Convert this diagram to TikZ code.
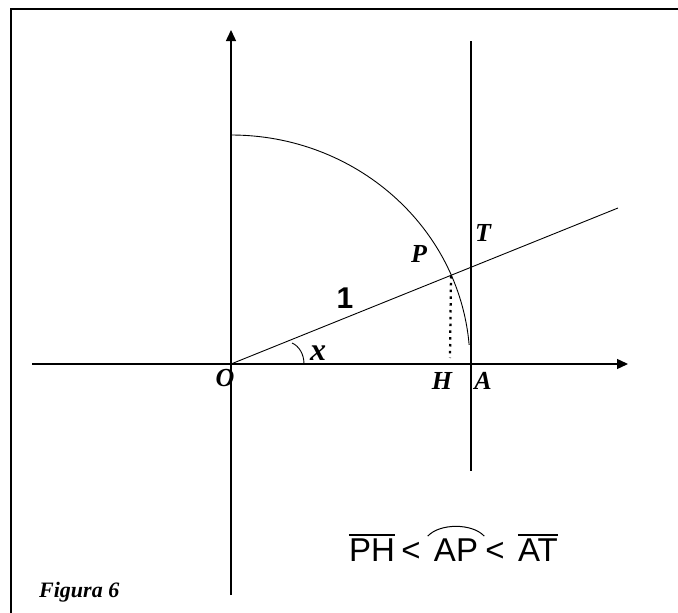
\documentclass[tikz,border=0pt]{standalone}
\usepackage{fontspec}
\setmainfont{Liberation Serif}
\newfontfamily\arialfont{Liberation Sans}
\usetikzlibrary{arrows.meta}
\begin{document}
\begin{tikzpicture}[x=1pt,y=1pt,
  lbl/.style={font=\fontsize{26}{26}\selectfont\bfseries\itshape, inner sep=0pt},
  frm/.style={font=\arialfont\fontsize{33}{33}\selectfont, inner sep=0pt, anchor=base},
  axis/.style={line width=1.4pt, -{Triangle[length=11pt,width=10pt]}},
  thin/.style={line width=0.9pt}]
\useasboundingbox (0,0) rectangle (678,-613);
% frame (top and left only)
\coordinate (F1) at (11,-613);
\coordinate (F2) at (11,-9);
\coordinate (F3) at (678,-9);
\draw[line width=2pt] (F1) -- (F2) -- (F3);
% points
\coordinate (O) at (231,-364);
\coordinate (Xs) at (32,-364);
\coordinate (Xe) at (628,-364);
\coordinate (Ys) at (231,-595);
\coordinate (Ye) at (231,-30);
\coordinate (Ts) at (471,-41);
\coordinate (Te) at (471,-471);
\coordinate (R) at (618,-208);
\coordinate (Pp) at (451,-276);
\coordinate (Hp) at (450,-358);
\coordinate (Top) at (231,-135);
% axes
\draw[axis] (Xs) -- (Xe);
\draw[axis] (Ys) -- (Ye);
% tangent line
\draw[line width=1.2pt] (Ts) -- (Te);
% quarter arc
\draw[thin] (Top) arc[start angle=90, end angle=4.8, x radius=239pt, y radius=229pt];
% ray
\draw[thin] (O) -- (R);
% dotted projection
\draw[line width=2.3pt, dash pattern=on 2.5pt off 4.3pt] (Pp) -- (Hp);
% angle mark
\coordinate (a1) at (292,-343);
\coordinate (a2) at (304,-364);
\draw[thin] (a1) .. controls (299,-346) and (304,-354) .. (a2);
% labels
\node[lbl] (lO) at (225,-378) {O};
\node[lbl] (lH) at (442,-381) {H};
\node[lbl] (lA) at (483,-381) {A};
\node[lbl] (lP) at (419,-254) {P};
\node[lbl] (lT) at (483,-233) {T};
\node[lbl, font=\fontsize{32}{32}\selectfont\bfseries\itshape] (lx) at (318,-353) {x};
\node[font=\arialfont\fontsize{30}{30}\selectfont\bfseries, inner sep=0pt] (l1) at (345,-298) {1};
% formula
\node[frm] (fPH) at (372,-561) {PH};
\node[frm] (fl1) at (411,-561) {<};
\node[frm] (fAP) at (456,-561) {AP};
\node[frm] (fl2) at (495,-561) {<};
\node[frm] (fAT) at (538,-561) {AT};
\draw[line width=2pt] ([yshift=3pt]fPH.north west) -- ([yshift=3pt]fPH.north east);
\draw[line width=2pt] ([yshift=3pt]fAT.north west) -- ([yshift=3pt]fAT.north east);
\coordinate (h1) at ([xshift=-6pt,yshift=2pt]fAP.north west);
\coordinate (h2) at ([xshift=6pt,yshift=2pt]fAP.north east);
\draw[line width=1pt] (h1) .. controls ([xshift=12pt,yshift=13pt]h1) and ([xshift=-12pt,yshift=13pt]h2) .. (h2);
% caption
\node[font=\fontsize{22}{22}\selectfont\bfseries\itshape, inner sep=0pt, anchor=base west] (cap) at (39,-597) {Figura 6};
\end{tikzpicture}
\end{document}
